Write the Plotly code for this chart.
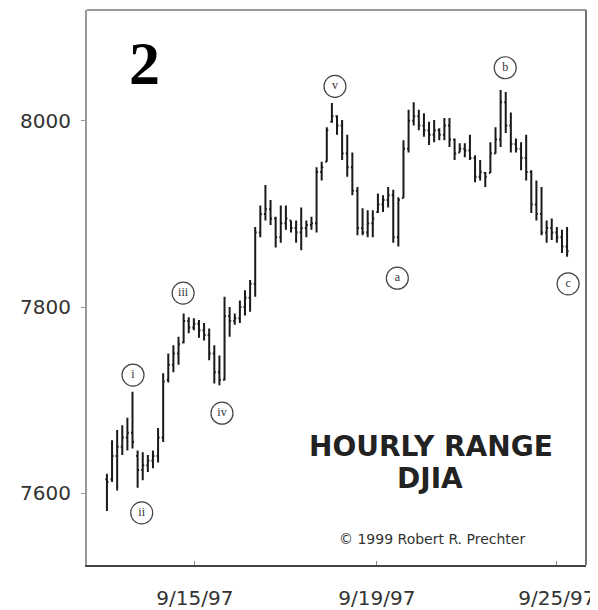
import plotly.graph_objects as go

# hourly bars, index 0..90 (about nine bars per trading day)
highs = [7621, 7657, 7668, 7673, 7681, 7709, 7646, 7644, 7641, 7646,
         7670, 7729, 7750, 7759, 7768, 7793, 7789, 7788, 7786, 7783,
         7777, 7759, 7748, 7811, 7800, 7793, 7807, 7818, 7829, 7886,
         7909, 7931, 7915, 7897, 7909, 7909, 7893, 7893, 7907, 7893,
         7897, 7950, 7956, 7993, 8019, 8006, 8001, 7985, 7966, 7929,
         7906, 7904, 7904, 7922, 7920, 7929, 7926, 7918, 7979, 8012,
         8020, 8012, 8008, 7999, 8001, 7992, 8003, 8003, 7981, 7976,
         7976, 7985, 7963, 7958, 7945, 7977, 7993, 8033, 8031, 8009,
         7981, 7977, 7985, 7947, 7936, 7929, 7893, 7895, 7886, 7883,
         7886]
lows = [7581, 7612, 7603, 7641, 7646, 7648, 7606, 7614, 7623, 7627,
        7633, 7655, 7719, 7730, 7738, 7761, 7772, 7775, 7767, 7764,
        7743, 7718, 7716, 7721, 7768, 7781, 7783, 7791, 7795, 7811,
        7875, 7893, 7888, 7864, 7869, 7883, 7880, 7869, 7861, 7875,
        7883, 7880, 7936, 7956, 7998, 7985, 7958, 7940, 7920, 7877,
        7877, 7875, 7875, 7901, 7902, 7907, 7869, 7865, 7917, 7966,
        7995, 7990, 7983, 7974, 7977, 7979, 7979, 7972, 7958, 7966,
        7961, 7958, 7934, 7936, 7929, 7944, 7965, 7972, 7987, 7966,
        7966, 7947, 7936, 7901, 7893, 7877, 7869, 7872, 7869, 7858,
        7854]
opens = [7615, 7615, 7640, 7650, 7660, 7665, 7640, 7625, 7630, 7635,
         7640, 7660, 7722, 7738, 7750, 7762, 7785, 7778, 7782, 7775,
         7770, 7750, 7730, 7722, 7790, 7785, 7788, 7800, 7810, 7825,
         7880, 7900, 7905, 7895, 7875, 7890, 7893, 7885, 7880, 7885,
         7888, 7890, 7945, 7956, 7999, 8005, 7995, 7965, 7950, 7925,
         7885, 7880, 7890, 7902, 7910, 7915, 7920, 7875, 7917, 7970,
         8000, 8005, 7995, 7990, 7985, 7990, 7985, 7995, 7980, 7966,
         7970, 7968, 7960, 7940, 7944, 7944, 7965, 7980, 8020, 7995,
         7975, 7970, 7960, 7945, 7910, 7900, 7880, 7885, 7880, 7875,
         7865]
closes = [7612, 7640, 7650, 7660, 7665, 7655, 7625, 7630, 7635, 7640,
          7660, 7720, 7738, 7750, 7760, 7785, 7778, 7782, 7775, 7770,
          7750, 7730, 7722, 7790, 7785, 7788, 7800, 7810, 7825, 7880,
          7900, 7905, 7895, 7875, 7890, 7895, 7885, 7880, 7885, 7888,
          7890, 7945, 7950, 7990, 8005, 7995, 7965, 7950, 7925, 7885,
          7880, 7890, 7895, 7910, 7915, 7920, 7875, 7915, 7970, 8000,
          8005, 7995, 7990, 7985, 7990, 7985, 7995, 7980, 7965, 7970,
          7968, 7960, 7940, 7945, 7940, 7965, 7980, 8020, 7995, 7975,
          7970, 7960, 7945, 7910, 7900, 7880, 7885, 7880, 7875, 7865,
          7860]
bar_index = list(range(len(highs)))

date_ticks = [17.2, 52.8, 88.0]
date_labels = ["9/15/97", "9/19/97", "9/25/97"]
price_ticks = [7600, 7800, 8000]

# Elliott wave labels
wave_labels = ["i", "ii", "iii", "iv", "v", "a", "b", "c"]
wave_x = [5.1, 6.8, 14.9, 22.5, 44.6, 56.8, 77.9, 90.2]
wave_y = [7727, 7579, 7815, 7686, 8037, 7831, 8057, 7825]

fig = go.Figure()
fig.add_trace(go.Ohlc(
    x=bar_index, open=opens, high=highs, low=lows, close=closes,
    increasing=dict(line=dict(color="#1a1a1a", width=2)),
    decreasing=dict(line=dict(color="#1a1a1a", width=2)),
    tickwidth=0.3, showlegend=False, hoverinfo="skip",
))
fig.add_trace(go.Scatter(
    x=wave_x, y=wave_y, mode="markers+text", text=wave_labels,
    textposition="middle center",
    textfont=dict(family="Liberation Serif", size=12, color="#333"),
    marker=dict(symbol="circle-open", size=22, color="#444", line=dict(width=1.2)),
    showlegend=False, hoverinfo="skip", cliponaxis=False,
))

# the page body adds 8px around the figure, so the figure is a bit smaller
fig.update_layout(
    width=590, height=602,
    margin=dict(l=79, r=12, t=2, b=45),
    paper_bgcolor="white", plot_bgcolor="white",
    font=dict(family="DejaVu Sans", color="#333"),
    xaxis=dict(
        range=[-3.9, 93.7], rangeslider=dict(visible=False),
        tickvals=date_ticks, ticktext=date_labels,
        ticks="inside", ticklen=4, tickcolor="#888",
        tickfont=dict(size=20, color="#333"), ticklabelstandoff=14,
        showline=True, linecolor="#444", linewidth=1.5,
        showgrid=False, zeroline=False, automargin=False,
    ),
    yaxis=dict(
        range=[7523, 8119], tickvals=price_ticks,
        ticks="outside", ticklen=4, tickcolor="#999",
        tickfont=dict(size=20, color="#333"), ticklabelstandoff=6,
        showline=True, linecolor="#999", linewidth=2,
        showgrid=False, zeroline=False, automargin=False,
    ),
    shapes=[
        dict(type="line", xref="paper", yref="paper", x0=0, x1=1, y0=1, y1=1,
             line=dict(color="#999", width=2)),
        dict(type="line", xref="paper", yref="paper", x0=1, x1=1, y0=0, y1=1,
             line=dict(color="#444", width=1.5)),
    ],
    annotations=[
        dict(text="<b>2</b>", xref="paper", yref="paper", x=0.116, y=0.905,
             xanchor="center", yanchor="middle", showarrow=False,
             font=dict(family="Liberation Serif", size=62, color="black")),
        dict(text="<b>HOURLY RANGE</b>", xref="paper", yref="paper", x=0.689, y=0.214,
             xanchor="center", yanchor="middle", showarrow=False,
             font=dict(family="DejaVu Sans", size=28, color="#222")),
        dict(text="<b>DJIA</b>", xref="paper", yref="paper", x=0.687, y=0.155,
             xanchor="center", yanchor="middle", showarrow=False,
             font=dict(family="DejaVu Sans", size=28, color="#222")),
        dict(text="© 1999 Robert R. Prechter", xref="paper", yref="paper", x=0.691, y=0.047,
             xanchor="center", yanchor="middle", showarrow=False,
             font=dict(family="DejaVu Sans", size=14, color="#333")),
    ],
)

fig.write_html("out.html")
